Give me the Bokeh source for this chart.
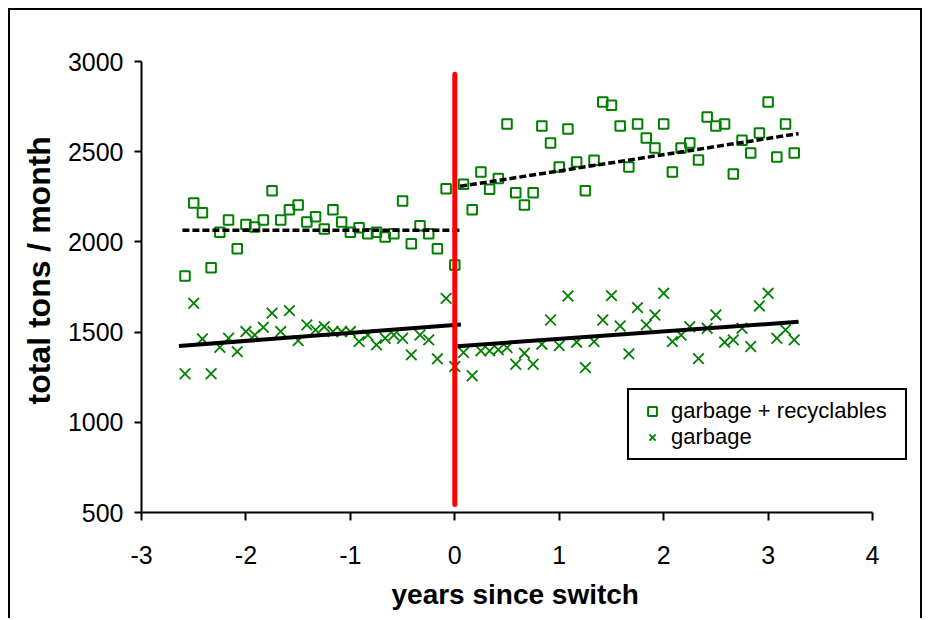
from bokeh.plotting import figure
from bokeh.models import Legend, LegendItem, Range1d, FixedTicker, Title
from bokeh.embed import file_html
from bokeh.resources import INLINE

# ---------------- data ----------------
before_months = list(range(-31, 1))   # months relative to the switch
after_months = list(range(1, 40))

gr_before = [1811, 2216, 2161, 1857, 2054, 2122, 1962, 2097, 2083, 2122,
             2283, 2122, 2178, 2205, 2111, 2139, 2072, 2178, 2111, 2054,
             2078, 2045, 2054, 2027, 2045, 2227, 1990, 2089, 2045, 1962,
             2294, 1872]
g_before = [1269, 1660, 1462, 1269, 1416, 1466, 1392, 1503, 1484, 1527,
            1605, 1503, 1619, 1453, 1540, 1512, 1530, 1503, 1503, 1503,
            1447, 1484, 1429, 1466, 1484, 1466, 1374, 1484, 1457, 1352,
            1687, 1309]

gr_after = [2320, 2178, 2388, 2292, 2351, 2653, 2272, 2205, 2272, 2642,
            2548, 2415, 2626, 2443, 2283, 2452, 2775, 2758, 2642, 2415,
            2653, 2576, 2520, 2653, 2388, 2520, 2548, 2454, 2692, 2642,
            2653, 2377, 2563, 2493, 2603, 2775, 2471, 2653, 2493]
g_after = [1387, 1258, 1396, 1396, 1402, 1414, 1322, 1383, 1322, 1433,
           1567, 1425, 1700, 1444, 1304, 1447, 1567, 1702, 1534, 1379,
           1636, 1540, 1595, 1715, 1447, 1484, 1530, 1353, 1521, 1595,
           1444, 1457, 1521, 1420, 1645, 1715, 1466, 1512, 1457]

# trend lines (end points, months / tons)
gr_trend_before_months = [-31.3, 0.7]
gr_trend_before = [2065, 2065]
gr_trend_after_months = [0.6, 39.5]
gr_trend_after = [2308, 2600]
g_trend_before_months = [-31.7, 0.7]
g_trend_before = [1423, 1542]
g_trend_after_months = [0.3, 39.5]
g_trend_after = [1422, 1557]

switch_x = [0, 0]
switch_y = [545, 2930]

x_ticks = [-3, -2, -1, 0, 1, 2, 3, 4]
y_ticks = [500, 1000, 1500, 2000, 2500, 3000]

legend_labels = ["garbage + recyclables", "garbage"]
x_title = "years since switch"
y_title = "total tons / month"


def yrs(months):
    return [m / 12 for m in months]


GREEN = "#008000"
FONT = "Liberation Sans"

# frame: 780 px wide, axis drawn only over [-3, 4] (732 px)
p = figure(width=914, height=610,
           x_range=Range1d(-3, -3 + 780 * 7 / 732), y_range=Range1d(500, 3000),
           output_backend="svg", toolbar_location=None,
           min_border_left=130, min_border_right=4,
           min_border_top=51, min_border_bottom=107,
           background_fill_color="white", border_fill_color="white",
           outline_line_color=None,
           margin=(8, 0, 0, 8),
           styles={"border-top": "2px solid black",
                   "border-left": "2px solid black",
                   "border-right": "2px solid black"})

p.xgrid.visible = False
p.ygrid.visible = False

# scatter
r_sq = p.scatter(yrs(before_months + after_months), gr_before + gr_after,
                 marker="square", size=9.5, fill_color=None,
                 line_color=GREEN, line_width=2)
r_x = p.scatter(yrs(before_months + after_months), g_before + g_after,
                marker="x", size=15, line_color=GREEN, line_width=1.8)

# trends
p.line(yrs(gr_trend_before_months), gr_trend_before, line_color="black",
       line_width=3.5, line_dash="7 3")
p.line(yrs(gr_trend_after_months), gr_trend_after, line_color="black",
       line_width=3.5, line_dash="7 3")
p.line(yrs(g_trend_before_months), g_trend_before, line_color="black",
       line_width=4)
p.line(yrs(g_trend_after_months), g_trend_after, line_color="black",
       line_width=4)

# switch marker
p.line(switch_x, switch_y, line_color="#ff0000", line_width=5, line_cap="round")

# axes
p.xaxis.ticker = FixedTicker(ticks=x_ticks)
p.yaxis.ticker = FixedTicker(ticks=y_ticks)
p.xaxis.bounds = (x_ticks[0], x_ticks[-1])
p.xaxis.major_label_overrides = {t: str(t) for t in x_ticks}
for ax in (p.xaxis[0], p.yaxis[0]):
    ax.axis_line_width = 2
    ax.axis_line_color = "black"
    ax.major_tick_line_width = 2
    ax.major_tick_line_color = "black"
    ax.major_tick_in = 0
    ax.minor_tick_out = 0
    ax.minor_tick_in = 0
    ax.major_label_text_font = FONT
    ax.major_label_text_font_size = "25px"
    ax.major_label_text_color = "black"

p.xaxis.major_tick_out = 8
p.yaxis.major_tick_out = 7
p.xaxis.major_label_standoff = 25
p.yaxis.major_label_standoff = 11

# axis titles as Titles so they can be placed like the reference
xt = Title(text=x_title, align="left", offset=250, standoff=21,
           text_font=FONT, text_font_style="bold", text_font_size="28px",
           text_color="black")
p.add_layout(xt, "below")
yt = Title(text=y_title, align="left", offset=108, standoff=16,
           text_font=FONT, text_font_style="bold", text_font_size="32px",
           text_color="black")
p.add_layout(yt, "left")

legend = Legend(items=[LegendItem(label=legend_labels[0], renderers=[r_sq]),
                       LegendItem(label=legend_labels[1], renderers=[r_x])],
                location=(486, 52), margin=0, padding=8, spacing=0,
                glyph_width=30, glyph_height=22, label_height=22,
                label_width=226, label_standoff=4,
                label_text_font=FONT, label_text_font_size="22px",
                label_text_color="black",
                border_line_color="black", border_line_width=2,
                border_line_alpha=1,
                background_fill_color="white", background_fill_alpha=1)
p.add_layout(legend)

open("out.html", "w").write(file_html(p, INLINE))
